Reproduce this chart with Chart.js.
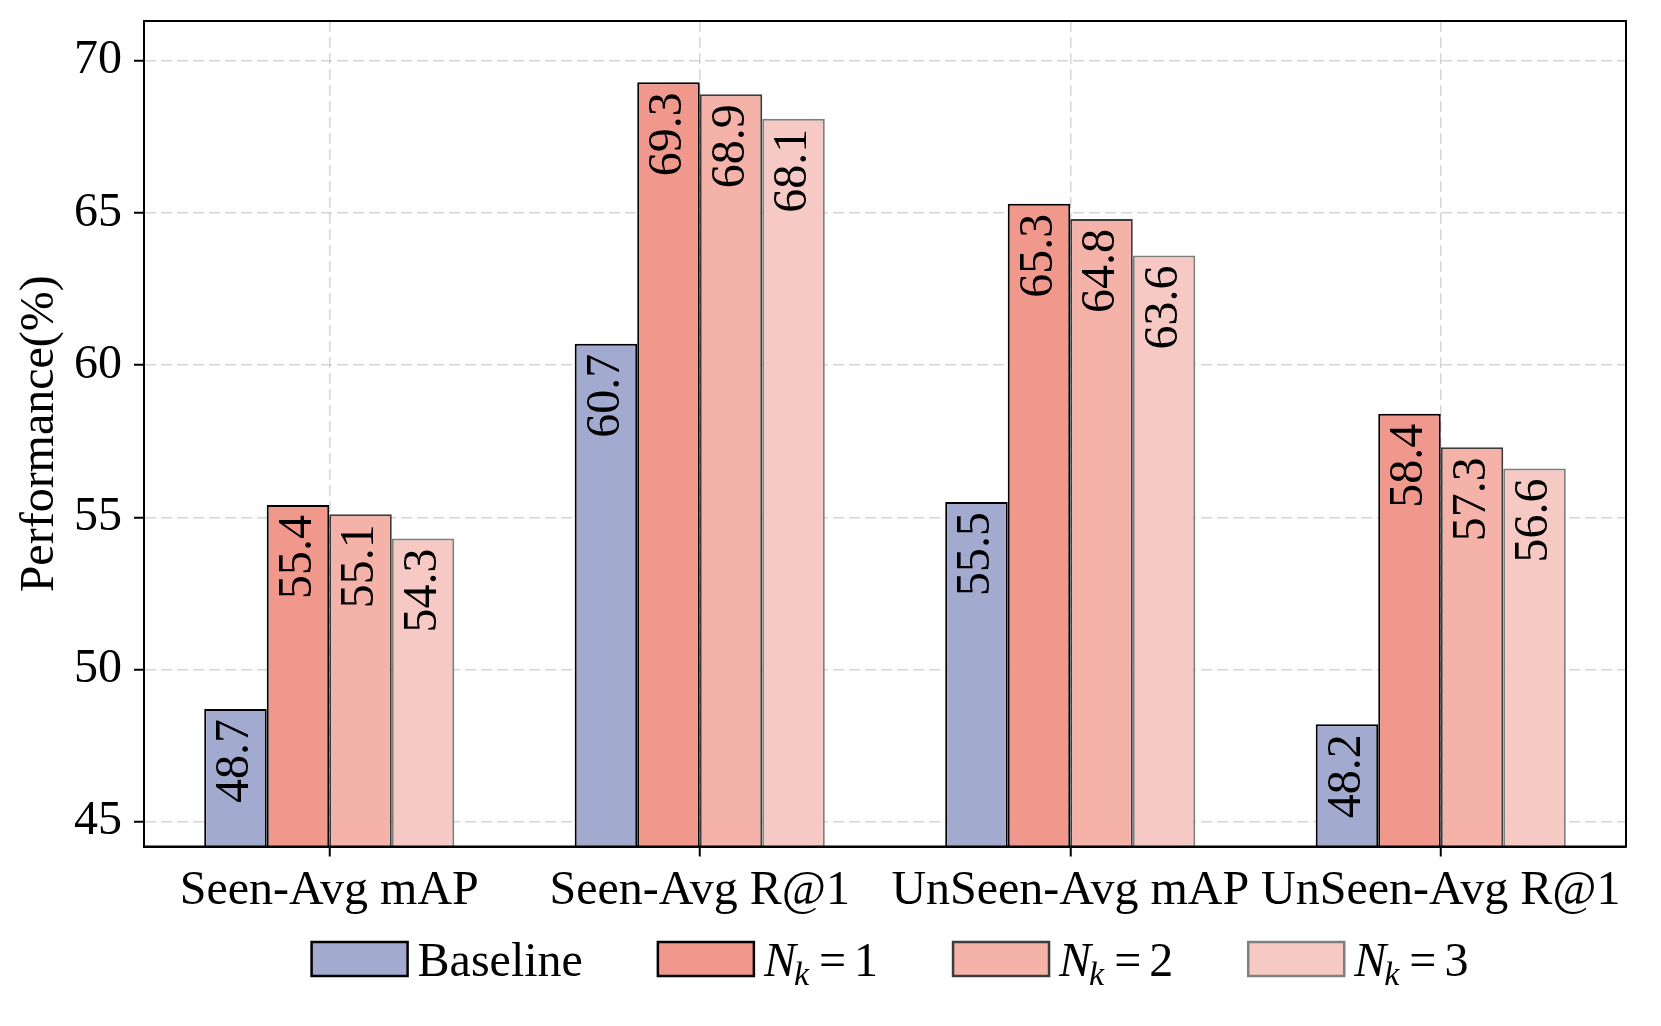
<!DOCTYPE html>
<html>
<head>
<meta charset="utf-8">
<script src="https://cdn.jsdelivr.net/npm/chart.js@4.4.1/dist/chart.umd.min.js"></script>
<style>
    html, body { margin: 0; padding: 0; background: #fff; }
    #wrap { width: 1661px; height: 1026px; }
</style>
</head>
<body>
<div id="wrap"><canvas id="chart" width="1661" height="1026"></canvas></div>
<script>
// data
const categories = ['Seen-Avg mAP', 'Seen-Avg R@1', 'UnSeen-Avg mAP', 'UnSeen-Avg R@1'];
const seriesLabels = ['Baseline', 'N_k = 1', 'N_k = 2', 'N_k = 3'];
const baseline = [48.7, 60.7, 55.5, 48.2];
const nk1 = [55.4, 69.3, 65.3, 58.4];
const nk2 = [55.1, 68.9, 64.8, 57.3];
const nk3 = [54.3, 68.1, 63.6, 56.6];
const yTicks = [45, 50, 55, 60, 65, 70];

const FONT = '"Liberation Serif", "Times New Roman", serif';
const FONT_SIZE = 48;

const fills = ['#a2aad0', '#f0988b', '#f5b2a9', '#f7c9c4'];
const edges = ['#000000', '#000000', '#3c3c3c', '#7f7f7f'];

// rotated value labels inside the top of each bar
const valueLabels = {
    id: 'valueLabels',
    afterDatasetsDraw(chart) {
        const ctx = chart.ctx;
        ctx.save();
        ctx.font = FONT_SIZE + 'px ' + FONT;
        ctx.fillStyle = '#000';
        ctx.textAlign = 'right';
        ctx.textBaseline = 'middle';
        chart.data.datasets.forEach((ds, i) => {
            chart.getDatasetMeta(i).data.forEach((bar, j) => {
                ctx.save();
                ctx.translate(bar.x, bar.y + 10);
                ctx.rotate(-Math.PI / 2);
                ctx.fillText(ds.data[j].toFixed(1), 0, 0);
                ctx.restore();
            });
        });
        ctx.restore();
    }
};

// top and right spines
const frame = {
    id: 'frame',
    afterDraw(chart) {
        const {ctx, chartArea: a} = chart;
        ctx.save();
        ctx.strokeStyle = '#000';
        ctx.lineWidth = 2;
        ctx.strokeRect(a.left, a.top, a.right - a.left, a.bottom - a.top);
        ctx.restore();
    }
};

// draws "N_k = 1" style labels with an italic N and subscript k
function drawMathLabel(ctx, label, x, y, measureOnly) {
    const m = label.match(/^(\w)_(\w)\s*=\s*(\S+)$/);
    if (!m) {
        ctx.font = FONT_SIZE + 'px ' + FONT;
        if (!measureOnly) ctx.fillText(label, x, y);
        return ctx.measureText(label).width;
    }
    let cx = x;
    ctx.font = 'italic ' + FONT_SIZE + 'px ' + FONT;
    if (!measureOnly) ctx.fillText(m[1], cx, y);
    cx += ctx.measureText(m[1]).width - 2;
    ctx.font = 'italic ' + Math.round(FONT_SIZE * 0.7) + 'px ' + FONT;
    if (!measureOnly) ctx.fillText(m[2], cx, y + 9);
    cx += ctx.measureText(m[2]).width + 10;
    ctx.font = FONT_SIZE + 'px ' + FONT;
    if (!measureOnly) ctx.fillText('=', cx, y);
    cx += ctx.measureText('=').width + 8;
    if (!measureOnly) ctx.fillText(m[3], cx, y);
    cx += ctx.measureText(m[3]).width;
    return cx - x;
}

const legendRow = {
    id: 'legendRow',
    afterDraw(chart) {
        const ctx = chart.ctx;
        const boxW = 96, boxH = 34, gap = 10, spacing = 75;
        const centerX = 890, boxTop = 942, textY = 976;
        ctx.save();
        ctx.textAlign = 'left';
        ctx.textBaseline = 'alphabetic';
        const widths = chart.data.datasets.map(ds => drawMathLabel(ctx, ds.label, 0, 0, true));
        let total = 0;
        widths.forEach((w, i) => { total += boxW + gap + w + (i < widths.length - 1 ? spacing : 0); });
        let x = centerX - total / 2;
        chart.data.datasets.forEach((ds, i) => {
            ctx.fillStyle = ds.backgroundColor;
            ctx.fillRect(x, boxTop, boxW, boxH);
            ctx.strokeStyle = ds.borderColor;
            ctx.lineWidth = 2.5;
            ctx.strokeRect(x, boxTop, boxW, boxH);
            ctx.fillStyle = '#000';
            drawMathLabel(ctx, ds.label, x + boxW + gap, textY, false);
            x += boxW + gap + widths[i] + spacing;
        });
        ctx.restore();
    }
};

const seriesValues = [baseline, nk1, nk2, nk3];

new Chart(document.getElementById('chart'), {
    type: 'bar',
    data: {
        labels: categories,
        datasets: seriesValues.map((vals, i) => ({
            label: seriesLabels[i],
            data: vals,
            backgroundColor: fills[i],
            borderColor: edges[i],
            borderWidth: 2,
            categoryPercentage: 0.675,
            barPercentage: 1.0
        }))
    },
    options: {
        responsive: false,
        animation: false,
        devicePixelRatio: 1,
        layout: {
            padding: { left: 0, right: 35, top: 21, bottom: 0 }
        },
        plugins: {
            legend: { display: false },
            tooltip: { enabled: false }
        },
        scales: {
            x: {
                z: 1,
                grid: {
                    offset: false,
                    color: 'rgba(128, 128, 128, 0.32)',
                    lineWidth: 1.5,
                    tickColor: '#000',
                    tickWidth: 2,
                    tickLength: 10
                },
                border: { display: true, color: '#000', width: 2, dash: [11, 5] },
                ticks: {
                    color: '#000',
                    padding: 6,
                    maxRotation: 0,
                    autoSkip: false,
                    font: { family: FONT, size: FONT_SIZE }
                },
                afterFit(scale) {
                    scale.height = 179.5;
                    scale.paddingLeft = 0;
                    scale.paddingRight = 0;
                }
            },
            y: {
                z: 1,
                min: 44.18,
                max: 71.31,
                grid: {
                    color: 'rgba(128, 128, 128, 0.32)',
                    lineWidth: 1.5,
                    tickColor: '#000',
                    tickWidth: 2,
                    tickLength: 10
                },
                border: { display: true, color: '#000', width: 2, dash: [11, 5] },
                ticks: {
                    color: '#000',
                    padding: 12,
                    includeBounds: false,
                    font: { family: FONT, size: FONT_SIZE }
                },
                afterBuildTicks(scale) {
                    scale.ticks = yTicks.map(v => ({ value: v }));
                },
                title: {
                    display: true,
                    text: 'Performance(%)',
                    color: '#000',
                    padding: { top: 12, bottom: 0 },
                    font: { family: FONT, size: FONT_SIZE }
                },
                afterFit(scale) {
                    scale.width = 144;
                    scale.paddingTop = 0;
                    scale.paddingBottom = 0;
                }
            }
        }
    },
    plugins: [valueLabels, frame, legendRow]
});
</script>
</body>
</html>
